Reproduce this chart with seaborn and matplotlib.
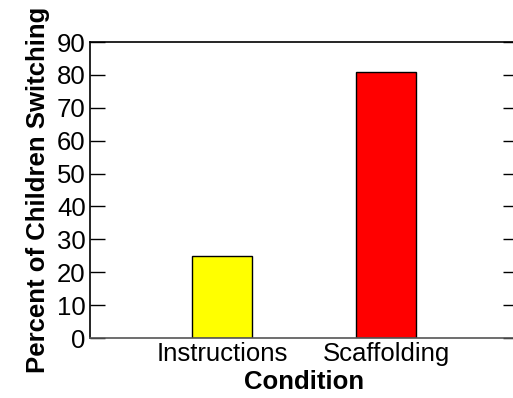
import seaborn as sns
import pandas as pd
import matplotlib.pyplot as plt

conditions = ["Instructions", "Scaffolding"]
percent = [25, 81]
bar_colors = ["#ffff00", "#ff0000"]
yticks = [0, 10, 20, 30, 40, 50, 60, 70, 80, 90]

df = pd.DataFrame({"Condition": conditions, "Percent": percent})

sns.set_style("ticks")
plt.rcParams['font.family'] = ['Liberation Sans', 'DejaVu Sans']
plt.rcParams['text.color'] = 'black'
plt.rcParams['axes.labelcolor'] = 'black'

fig = plt.figure(figsize=(5.13, 3.98), dpi=100)
ax = fig.add_axes([90 / 513, 1 - 338 / 398, (518 - 90) / 513, (338 - 42) / 398])

sns.barplot(data=df, x="Condition", y="Percent", hue="Condition",
            palette=bar_colors, saturation=1, width=0.366, edgecolor="black",
            linewidth=1, legend=False, ax=ax)

ax.set_xlim(-0.805, 1.805)
ax.set_ylim(0, 90)
ax.set_yticks(yticks)
ax.tick_params(axis='y', which='major', direction='in', length=11, width=1,
               labelsize=18.5, right=True, pad=3, colors='black')
ax.tick_params(axis='x', length=0, labelsize=18.5, pad=3, colors='black')
for s in ax.spines.values():
    s.set_linewidth(1.2)
    s.set_color("black")
ax.spines.bottom.set_color("#555555")

ax.set_xlabel("Condition", fontsize=18.5, fontweight="bold", labelpad=3,
              color='black')
ax.set_ylabel("Percent of Children Switching", fontsize=18.5,
              fontweight="bold", labelpad=5, color='black')

plt.savefig("out.png", dpi=100)
